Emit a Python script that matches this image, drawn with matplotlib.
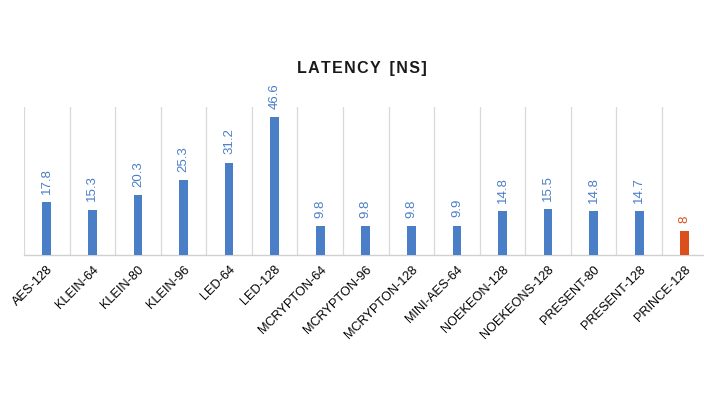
import matplotlib.pyplot as plt
import numpy as np

ciphers = ['AES-128', 'KLEIN-64', 'KLEIN-80', 'KLEIN-96', 'LED-64', 'LED-128',
           'MCRYPTON-64', 'MCRYPTON-96', 'MCRYPTON-128', 'MINI-AES-64',
           'NOEKEON-128', 'NOEKEONS-128', 'PRESENT-80', 'PRESENT-128', 'PRINCE-128']
latency = [17.8, 15.3, 20.3, 25.3, 31.2, 46.6, 9.8, 9.8, 9.8, 9.9,
           14.8, 15.5, 14.8, 14.7, 8]
labels = ['17.8', '15.3', '20.3', '25.3', '31.2', '46.6', '9.8', '9.8', '9.8', '9.9',
          '14.8', '15.5', '14.8', '14.7', '8']
title = 'LATENCY [NS]'

blue = '#4a7ec6'
orange = '#dc4f1c'
colors = [blue] * (len(ciphers) - 1) + [orange]

plt.rcParams['font.family'] = ['Liberation Sans', 'DejaVu Sans']

fig = plt.figure(figsize=(7.04, 3.96), dpi=100)
# plot area in pixels: x 24..707.6, y 107..255
ax = fig.add_axes([24 / 704, (396 - 255) / 396, 683.6 / 704, 148 / 396])

x = np.arange(len(ciphers))
ax.bar(x, latency, width=0.19, color=colors, zorder=3)

for xi, v, lab, c in zip(x, latency, labels, colors):
    ax.annotate(lab, (xi, v), xytext=(0, 6), textcoords='offset points',
                rotation=90, ha='center', va='bottom', color=c, fontsize=9.5)

ax.set_xlim(-0.5, len(ciphers) - 0.5)
ax.set_ylim(0, 50)

# vertical gridlines between categories
for b in np.arange(-0.5, len(ciphers), 1.0):
    ax.axvline(b, color='#d9d9d9', linewidth=0.9, zorder=1)

for side in ['top', 'right', 'left']:
    ax.spines[side].set_visible(False)
ax.spines['bottom'].set_color('#d0d0d0')
ax.spines['bottom'].set_linewidth(1.0)

ax.set_yticks([])
ax.set_xticks(x)
ax.set_xticklabels(ciphers, rotation=45, ha='right', va='top',
                   rotation_mode='anchor', fontsize=9.2, color='#000000')
ax.tick_params(axis='x', length=0, pad=6)

# wide letter spacing like the original title
spaced = '  '.join('\u200a'.join(w) for w in title.split(' '))
fig.text(362 / 704, 1 - 68 / 396, spaced, ha='center', va='center',
         fontsize=11.5, fontweight='bold', color='#1a1a1a')

fig.savefig('out.png', dpi=100)
